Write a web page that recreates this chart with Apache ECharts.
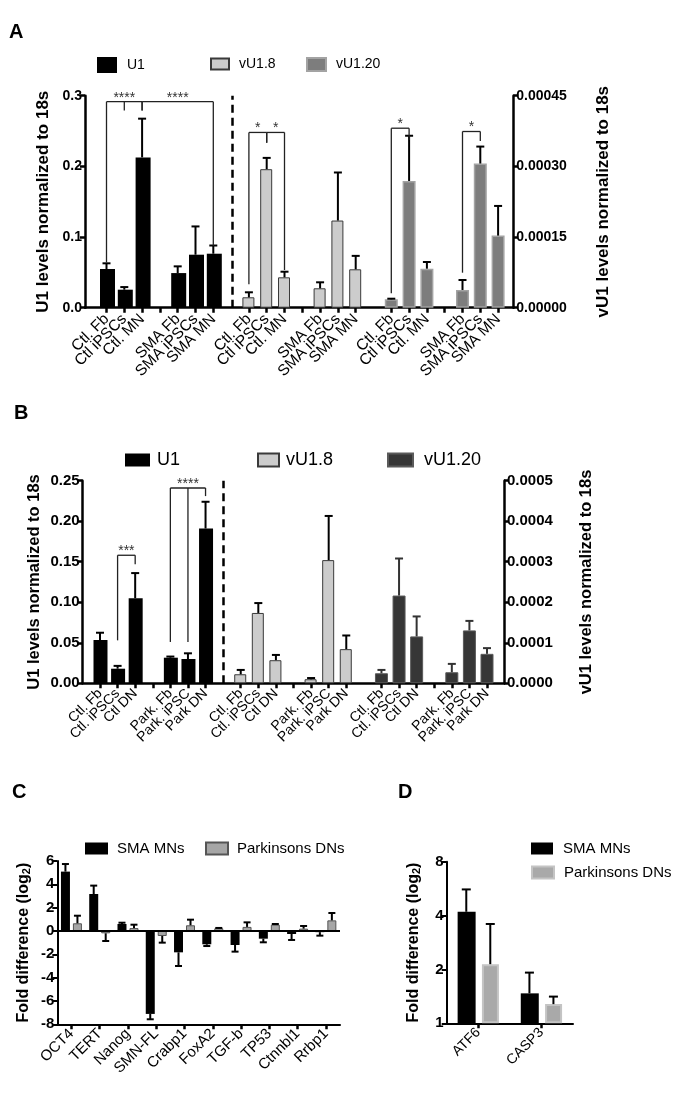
<!DOCTYPE html>
<html>
<head>
<meta charset="utf-8">
<script src="https://cdn.jsdelivr.net/npm/echarts@6/dist/echarts.min.js"></script>
<style>html,body{margin:0;padding:0;background:#fff}#c{width:687px;height:1094px}</style>
</head>
<body>
<div id="c"></div>
<script>
// ================= DATA =================
// Panel A
const aGroupCtl = ['Ctl. Fb', 'Ctl iPSCs', 'Ctl. MN'];
const aGroupSma = ['SMA Fb', 'SMA iPSCs', 'SMA MN'];
const aSeriesNames = ['U1', 'vU1.8', 'vU1.20'];
const aU1      = [0.0548, 0.0255, 0.2127, 0.0490, 0.0750, 0.0764];
const aU1Sem   = [0.0080, 0.0037, 0.0548, 0.0095, 0.0400, 0.0116];
const aV18     = [2.21e-5, 2.94e-4, 6.45e-5, 4.12e-5, 1.85e-4, 8.15e-5];
const aV18Sem  = [1.06e-5, 2.4e-5, 1.19e-5, 1.27e-5, 1.02e-4, 2.85e-5];
const aV120    = [1.78e-5, 2.69e-4, 8.28e-5, 3.76e-5, 3.06e-4, 1.53e-4];
const aV120Sem = [1.3e-6, 9.6e-5, 1.42e-5, 2.12e-5, 3.6e-5, 6.3e-5];
const aLeftRange  = {min: 0, max: 0.3, interval: 0.1, digits: 1};
const aRightRange = {min: 0, max: 0.00045, interval: 0.00015, digits: 5};
// significance brackets: item indices within a series, level & drop ends in axis units
const aU1Sig = [
  {stars: '****', from: 0, to: 2, level: 0.2915, drops: [[0, 0.064], [1, 0.279], [2, 0.279]]},
  {stars: '****', from: 2, to: 5, level: 0.2915, drops: [[2, 0.279], [5, 0.0875]]}
];
const aV18Sig = [
  {stars: '*', from: 0, to: 1, level: 3.72e-4, drops: [[0, 5.0e-5], [1, 3.5e-4]]},
  {stars: '*', from: 1, to: 2, level: 3.72e-4, drops: [[1, 3.5e-4], [2, 8.0e-5]]}
];
const aV120Sig = [
  {stars: '*', from: 0, to: 1, level: 3.81e-4, drops: [[0, 3.06e-5], [1, 3.56e-4]]},
  {stars: '*', from: 3, to: 4, level: 3.74e-4, drops: [[3, 7.43e-5], [4, 3.54e-4]]}
];

// Panel B
const bGroupCtl = ['Ctl. Fb', 'Ctl. iPSCs', 'Ctl DN'];
const bGroupPark = ['Park. Fb', 'Park. iPSC', 'Park DN'];
const bSeriesNames = ['U1', 'vU1.8', 'vU1.20'];
const bU1      = [0.0534, 0.0180, 0.1050, 0.0316, 0.0300, 0.1910];
const bU1Sem   = [0.0090, 0.0035, 0.0310, 0.0014, 0.0070, 0.0330];
const bV18     = [2.23e-5, 1.736e-4, 5.7e-5, 1.0e-5, 3.04e-4, 8.43e-5];
const bV18Sem  = [1.07e-5, 2.44e-5, 1.3e-5, 3.0e-6, 1.09e-4, 3.37e-5];
const bV120    = [2.48e-5, 2.166e-4, 1.157e-4, 2.73e-5, 1.305e-4, 7.27e-5];
const bV120Sem = [8.2e-6, 9.14e-5, 4.93e-5, 2.06e-5, 2.35e-5, 1.41e-5];
const bLeftRange  = {min: 0, max: 0.25, interval: 0.05, digits: 2};
const bRightRange = {min: 0, max: 0.0005, interval: 0.0001, digits: 4};
const bU1Sig = [
  {stars: '***', from: 1, to: 2, level: 0.158, drops: [[1, 0.053], [2, 0.147]]},
  {stars: '****', from: 3, to: 5, level: 0.241, drops: [[3, 0.051], [4, 0.051], [5, 0.231]]}
];

// Panel C
const cGenes = ['OCT4', 'TERT', 'Nanog', 'SMN-FL', 'Crabp1', 'FoxA2', 'TGF-b', 'TP53', 'Ctnnbl1', 'Rrbp1'];
const cSeriesNames = ['SMA MNs', 'Parkinsons DNs'];
const cSma     = [5.09, 3.17, 0.60, -7.11, -1.83, -1.14, -1.20, -0.66, -0.26, -0.10];
const cSmaSem  = [0.65, 0.72, 0.11, 0.46, 1.17, 0.15, 0.57, 0.31, 0.51, 0.30];
const cPark    = [0.66, -0.20, 0.25, -0.43, 0.49, 0.23, 0.35, 0.54, 0.20, 0.91];
const cParkSem = [0.65, 0.66, 0.29, 0.57, 0.48, 0.03, 0.39, 0.06, 0.23, 0.63];
const cRange = {min: -8, max: 6, interval: 2};

// Panel D
const dGenes = ['ATF6', 'CASP3'];
const dSeriesNames = ['SMA MNs', 'Parkinsons DNs'];
const dSma     = [4.20, 1.47];
const dSmaSem  = [1.40, 0.45];
const dPark    = [2.14, 1.28];
const dParkSem = [1.45, 0.13];
const dRange = {min: 1, max: 8, logBase: 2};

// ================= HELPERS =================
const FF = '"Liberation Sans", Arial, Helvetica, sans-serif';

function buildAxis(nSeries, groups) {
  const cats = [], slots = [], ticked = [], seps = [];
  for (let s = 0; s < nSeries; s++) {
    if (s > 0) { seps.push(cats.length); cats.push(''); }
    const sl = [];
    groups.forEach((g, gi) => {
      if (gi > 0) { ticked.push(cats.length); cats.push(''); }
      g.forEach(l => { sl.push(cats.length); ticked.push(cats.length); cats.push(l); });
    });
    slots.push(sl);
  }
  return {cats, slots, ticked: new Set(ticked), seps};
}
function spread(n, slotList, vals) {
  const arr = new Array(n).fill('-');
  slotList.forEach((c, i) => { arr[c] = vals[i]; });
  return arr;
}
function errData(slotList, vals, sems) {
  return vals.map((v, i) => [slotList[i], v, v < 0 ? v - sems[i] : v + sems[i]]);
}
function errSeries(xi, yi, data, dx, cap, color, lw) {
  return {
    type: 'custom', xAxisIndex: xi, yAxisIndex: yi, data, silent: true, clip: false, z: 4,
    encode: {x: 0, y: [1, 2]},
    renderItem(params, api) {
      const p0 = api.coord([api.value(0), api.value(1)]);
      const p1 = api.coord([api.value(0), api.value(2)]);
      const x = p0[0] + dx;
      return {type: 'group', children: [
        {type: 'line', shape: {x1: x, y1: p0[1], x2: x, y2: p1[1]}, style: {stroke: color, lineWidth: lw}},
        {type: 'line', shape: {x1: x - cap / 2, y1: p1[1], x2: x + cap / 2, y2: p1[1]}, style: {stroke: color, lineWidth: lw}}
      ]};
    }
  };
}
function sigSeries(xi, yi, sig, slotList, fontSize) {
  const segs = [];
  sig.forEach(b => {
    segs.push([slotList[b.from], b.level, slotList[b.to], b.level]);
    b.drops.forEach(d => segs.push([slotList[d[0]], b.level, slotList[d[0]], d[1]]));
  });
  const txt = sig.map(b => [slotList[b.from], slotList[b.to], b.level]);
  return [
    {type: 'custom', xAxisIndex: xi, yAxisIndex: yi, data: segs, silent: true, clip: false, z: 5,
     encode: {x: [0, 2], y: [1, 3]},
     renderItem(params, api) {
       const a = api.coord([api.value(0), api.value(1)]);
       const b = api.coord([api.value(2), api.value(3)]);
       return {type: 'line', shape: {x1: a[0], y1: a[1], x2: b[0], y2: b[1]}, style: {stroke: '#222', lineWidth: 1.3}};
     }},
    {type: 'custom', xAxisIndex: xi, yAxisIndex: yi, data: txt, silent: true, clip: false, z: 5,
     encode: {x: [0, 1], y: 2},
     renderItem(params, api) {
       const a = api.coord([api.value(0), api.value(2)]);
       const b = api.coord([api.value(1), api.value(2)]);
       return {type: 'text', style: {text: sig[params.dataIndex].stars, x: (a[0] + b[0]) / 2, y: a[1] + 3,
         align: 'center', verticalAlign: 'bottom', fontSize: fontSize, fontFamily: FF, fill: '#333'}};
     }}
  ];
}
function valueAxis(gridIndex, position, offset, range, name, nameGap, lblSize, nameSize, lw) {
  return {
    type: 'value', gridIndex, position, offset, min: range.min, max: range.max, interval: range.interval,
    axisLine: {show: true, onZero: false, lineStyle: {color: '#000', width: lw}},
    axisTick: {show: true, inside: false, length: 5, lineStyle: {color: '#000', width: lw}},
    axisLabel: {show: true, margin: 3, fontSize: lblSize, fontWeight: 'bold', fontFamily: FF, color: '#000',
      formatter: v => range.digits != null ? v.toFixed(range.digits) : String(v)},
    splitLine: {show: false},
    name, nameLocation: 'middle', nameRotate: 90, nameGap, nameMoveOverlap: false,
    nameTextStyle: {fontSize: nameSize, fontWeight: 'bold', fontFamily: FF, color: '#000'}
  };
}
function catAxis(gridIndex, cats, tickSet, fontSize, margin) {
  return {
    type: 'category', gridIndex, data: cats, position: 'bottom',
    axisLine: {show: false, onZero: false},
    axisTick: {show: true, alignWithLabel: true, length: 5, lineStyle: {color: '#000', width: 2.5},
      interval: (i) => tickSet.has(i)},
    axisLabel: {show: true, interval: 0, rotate: 45, margin, fontSize, fontFamily: FF, color: '#000'},
    splitLine: {show: false}
  };
}
function helperAxes(gridIndex) {
  return {
    x: {type: 'value', gridIndex, min: 0, max: 1, position: 'bottom',
        axisLine: {show: true, onZero: false, lineStyle: {color: '#000', width: 2.5}},
        axisTick: {show: false}, axisLabel: {show: false}, splitLine: {show: false}},
    y: {type: 'value', gridIndex, min: 0, max: 1, show: false, splitLine: {show: false}}
  };
}
function legendItem(name, left, top, fontSize, iw, ih, gap) {
  return {data: [name], left, top, padding: 0, orient: 'horizontal', icon: 'rect', itemWidth: iw, itemHeight: ih,
    selectedMode: false, formatter: n => n.slice(2),
    textStyle: {fontSize, fontFamily: FF, color: '#000', padding: [0, 0, 0, gap]}};
}

// ================= LAYOUT =================
const axA = buildAxis(3, [aGroupCtl, aGroupSma]);
const axB = buildAxis(3, [bGroupCtl, bGroupPark]);
const nA = axA.cats.length, nB = axB.cats.length;

const gridA  = {left: 97.6, top: 95.7, width: 409.4, height: 212};
const gridAh = {left: 85, top: 95.7, width: 428.3, height: 212};
const gridB  = {left: 91.2, top: 480.7, width: 404.6, height: 202.6};
const gridBh = {left: 82.7, top: 480.7, width: 421.3, height: 202.6};
const gridC  = {left: 57.3, top: 861, width: 282.7, height: 163.3};
const gridD  = {left: 446.7, top: 861.7, width: 126.3, height: 161.6};

const hA = helperAxes(1), hB = helperAxes(3);

const dashLine = (idx) => ({silent: true, symbol: ['none', 'none'], label: {show: false},
  lineStyle: {color: '#000', width: 2.5, type: [8, 5]}, emphasis: {disabled: true}, data: [{xAxis: idx}]});

const option = {
  animation: false,
  backgroundColor: '#fff',
  title: [
    {text: 'A', left: 9, top: 22, padding: 0, textStyle: {fontSize: 20, fontWeight: 'bold', fontFamily: FF, color: '#000'}},
    {text: 'B', left: 14, top: 403, padding: 0, textStyle: {fontSize: 20, fontWeight: 'bold', fontFamily: FF, color: '#000'}},
    {text: 'C', left: 12, top: 782, padding: 0, textStyle: {fontSize: 20, fontWeight: 'bold', fontFamily: FF, color: '#000'}},
    {text: 'D', left: 398, top: 782, padding: 0, textStyle: {fontSize: 20, fontWeight: 'bold', fontFamily: FF, color: '#000'}}
  ],
  legend: [
    legendItem('A:' + aSeriesNames[0], 97, 57, 14, 20, 16, 5),
    legendItem('A:' + aSeriesNames[1], 210, 57, 14, 18, 11, 5),
    legendItem('A:' + aSeriesNames[2], 306, 57, 14, 19, 13, 5),
    legendItem('B:' + bSeriesNames[0], 125, 451, 18, 25, 13, 2),
    legendItem('B:' + bSeriesNames[1], 257, 451, 18, 21, 13, 2),
    legendItem('B:' + bSeriesNames[2], 387, 451, 18, 25, 13, 6),
    legendItem('C:' + cSeriesNames[0], 85, 841, 15, 23, 12, 4),
    legendItem('C:' + cSeriesNames[1], 205, 841, 15, 22, 12, 4),
    legendItem('D:' + dSeriesNames[0], 531, 841, 15, 22, 12, 5),
    legendItem('D:' + dSeriesNames[1], 531, 865, 15, 22, 12, 5)
  ],
  grid: [gridA, gridAh, gridB, gridBh, gridC, gridD].map(g => Object.assign({outerBoundsMode: 'none', containLabel: false}, g)),
  xAxis: [
    catAxis(0, axA.cats, axA.ticked, 15.5, 9),
    hA.x,
    catAxis(2, axB.cats, axB.ticked, 14, 8),
    hB.x,
    Object.assign(catAxis(4, cGenes, new Set(cGenes.map((_, i) => i)), 15, 7),
      {axisLine: {show: true, onZero: false, lineStyle: {color: '#000', width: 2}}}),
    Object.assign(catAxis(5, dGenes, new Set([0, 1]), 14, 7),
      {axisLine: {show: true, onZero: false, lineStyle: {color: '#000', width: 2}}})
  ],
  yAxis: [
    valueAxis(0, 'left', 12.6, aLeftRange, 'U1 levels normalized to 18s', 33, 14, 17, 2.5),
    valueAxis(0, 'right', 6.3, aRightRange, 'vU1 levels normalized to 18s', 82, 14, 17, 2.5),
    hA.y,
    valueAxis(2, 'left', 8.5, bLeftRange, 'U1 levels normalized to 18s', 40, 15, 16.5, 2.5),
    valueAxis(2, 'right', 8.2, bRightRange, 'vU1 levels normalized to 18s', 74, 15, 16.5, 2.5),
    hB.y,
    Object.assign(valueAxis(4, 'left', 0, cRange, '{t|Fold difference (log}{s|2}{t|)}', 25, 15, 16, 2), {
      nameTextStyle: {rich: {
        t: {fontSize: 16, fontWeight: 'bold', fontFamily: FF, color: '#000', lineHeight: 18},
        s: {fontSize: 11, fontWeight: 'bold', fontFamily: FF, color: '#000', lineHeight: 18, verticalAlign: 'bottom'}}}
    }),
    Object.assign(valueAxis(5, 'left', 0, {min: dRange.min, max: dRange.max}, '{t|Fold difference (log}{s|2}{t|)}', 24, 15, 16, 2), {
      type: 'log', logBase: dRange.logBase, splitNumber: 3,
      nameTextStyle: {rich: {
        t: {fontSize: 16, fontWeight: 'bold', fontFamily: FF, color: '#000', lineHeight: 18},
        s: {fontSize: 11, fontWeight: 'bold', fontFamily: FF, color: '#000', lineHeight: 18, verticalAlign: 'bottom'}}}
    })
  ],
  series: [
    // ---------- Panel A ----------
    {type: 'bar', name: 'A:' + aSeriesNames[0], xAxisIndex: 0, yAxisIndex: 0, barWidth: 15, barGap: '-100%',
     data: spread(nA, axA.slots[0], aU1), itemStyle: {color: '#000'}, z: 2,
     markLine: dashLine(axA.seps[0])},
    {type: 'bar', name: 'A:' + aSeriesNames[1], xAxisIndex: 0, yAxisIndex: 1, barWidth: 12, barGap: '-100%',
     data: spread(nA, axA.slots[1], aV18), itemStyle: {color: '#cccccc', borderColor: '#3a3a3a', borderWidth: 1}, z: 2},
    {type: 'bar', name: 'A:' + aSeriesNames[2], xAxisIndex: 0, yAxisIndex: 1, barWidth: 13, barGap: '-100%',
     data: spread(nA, axA.slots[2], aV120), itemStyle: {color: '#7d7d7d', borderColor: '#a3a3a3', borderWidth: 1.5}, z: 2},
    errSeries(0, 0, errData(axA.slots[0], aU1, aU1Sem), 0, 8, '#000', 2),
    errSeries(0, 1, errData(axA.slots[1], aV18, aV18Sem), 0, 8, '#000', 2),
    errSeries(0, 1, errData(axA.slots[2], aV120, aV120Sem), 0, 8, '#000', 2),
    ...sigSeries(0, 0, aU1Sig, axA.slots[0], 14),
    ...sigSeries(0, 1, aV18Sig, axA.slots[1], 14),
    ...sigSeries(0, 1, aV120Sig, axA.slots[2], 14),
    // ---------- Panel B ----------
    {type: 'bar', name: 'B:' + bSeriesNames[0], xAxisIndex: 2, yAxisIndex: 3, barWidth: 14, barGap: '-100%',
     data: spread(nB, axB.slots[0], bU1), itemStyle: {color: '#000'}, z: 2,
     markLine: dashLine(axB.seps[0])},
    {type: 'bar', name: 'B:' + bSeriesNames[1], xAxisIndex: 2, yAxisIndex: 4, barWidth: 12, barGap: '-100%',
     data: spread(nB, axB.slots[1], bV18), itemStyle: {color: '#cccccc', borderColor: '#3a3a3a', borderWidth: 1}, z: 2},
    {type: 'bar', name: 'B:' + bSeriesNames[2], xAxisIndex: 2, yAxisIndex: 4, barWidth: 13, barGap: '-100%',
     data: spread(nB, axB.slots[2], bV120), itemStyle: {color: '#363636', borderColor: '#5a5a5a', borderWidth: 1}, z: 2},
    errSeries(2, 3, errData(axB.slots[0], bU1, bU1Sem), 0, 8, '#000', 2),
    errSeries(2, 4, errData(axB.slots[1], bV18, bV18Sem), 0, 8, '#000', 2),
    errSeries(2, 4, errData(axB.slots[2], bV120, bV120Sem), 0, 8, '#333', 2),
    ...sigSeries(2, 3, bU1Sig, axB.slots[0], 14),
    // ---------- Panel C ----------
    {type: 'bar', name: 'C:' + cSeriesNames[0], xAxisIndex: 4, yAxisIndex: 6, barWidth: 9, barGap: '33%',
     data: cSma, itemStyle: {color: '#000'}, z: 2,
     markLine: {silent: true, symbol: ['none', 'none'], label: {show: false}, emphasis: {disabled: true},
       lineStyle: {color: '#000', width: 2, type: 'solid'}, data: [{yAxis: 0}]}},
    {type: 'bar', name: 'C:' + cSeriesNames[1], xAxisIndex: 4, yAxisIndex: 6, barWidth: 9, barGap: '33%',
     data: cPark, itemStyle: {color: '#a6a6a6', borderColor: '#555', borderWidth: 1}, z: 2},
    errSeries(4, 6, errData(cGenes.map((_, i) => i), cSma, cSmaSem), -6, 7, '#000', 2),
    errSeries(4, 6, errData(cGenes.map((_, i) => i), cPark, cParkSem), 6, 7, '#000', 2),
    // ---------- Panel D ----------
    {type: 'bar', name: 'D:' + dSeriesNames[0], xAxisIndex: 5, yAxisIndex: 7, barWidth: 18, barGap: '33%',
     data: dSma, itemStyle: {color: '#000'}, z: 2},
    {type: 'bar', name: 'D:' + dSeriesNames[1], xAxisIndex: 5, yAxisIndex: 7, barWidth: 17, barGap: '35%',
     data: dPark, itemStyle: {color: '#a9a9a9', borderColor: '#c4c4c4', borderWidth: 2}, z: 2},
    errSeries(5, 7, errData([0, 1], dSma, dSmaSem), -12, 9, '#000', 2),
    errSeries(5, 7, errData([0, 1], dPark, dParkSem), 12, 9, '#000', 2)
  ]
};

const chart = echarts.init(document.getElementById('c'), null, {renderer: 'canvas', width: 687, height: 1094});
chart.setOption(option);
</script>
</body>
</html>
